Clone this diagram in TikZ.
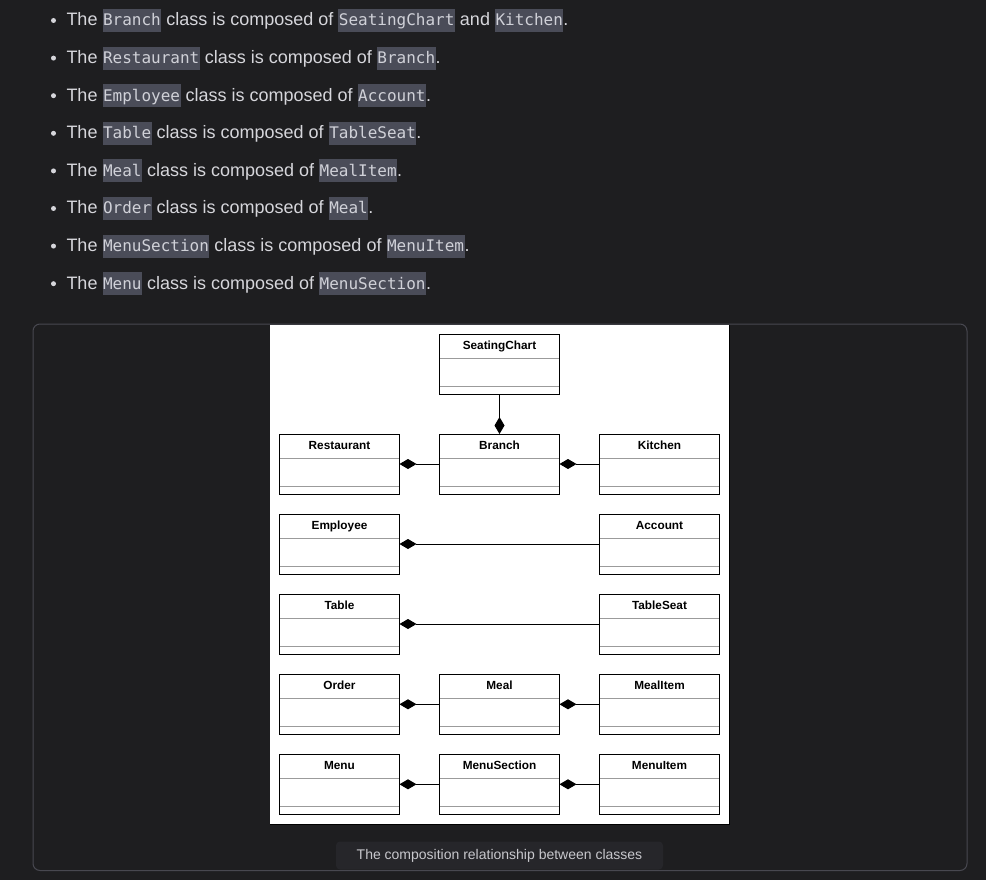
\documentclass[tikz,border=0pt]{standalone}
\usepackage{fontspec}
\setmainfont{Liberation Sans}
\newfontfamily\codefont{DejaVu Sans Mono}
\definecolor{pagebg}{RGB}{30,30,32}
\definecolor{panelline}{RGB}{72,72,80}
\definecolor{codebg}{RGB}{74,76,88}
\definecolor{codetext}{RGB}{208,209,216}
\definecolor{fgtext}{RGB}{214,214,219}
\definecolor{capbg}{RGB}{38,38,42}
\definecolor{captext}{RGB}{200,200,205}
\definecolor{divgray}{RGB}{155,155,155}
\usepackage{tikz}
\usetikzlibrary{arrows.meta}
\tikzstyle{base}=[x=1pt, y=-1pt, inner sep=0pt, outer sep=0pt]
\tikzstyle{txt}=[anchor=base west, text=fgtext, font=\fontsize{18}{21}\selectfont]
\tikzstyle{code}=[anchor=base west, inner xsep=0.5pt, inner ysep=0pt, text height=17pt, text depth=6pt, fill=codebg, text=codetext, font=\codefont\fontsize{16}{19}\selectfont]
\tikzstyle{dot}=[circle, fill=fgtext, minimum size=5pt]
\tikzstyle{cls}=[draw=black, line width=1pt, fill=white, minimum width=120pt, minimum height=60pt]
\tikzstyle{clstitle}=[anchor=base, font=\bfseries\fontsize{11.8}{14}\selectfont]
\tikzstyle{divider}=[divgray, line width=0.9pt, shorten <=0.5pt, shorten >=0.5pt]
\tikzstyle{comp}=[{Diamond[length=17pt,width=10pt]}-, line width=1pt]
\newcommand*{\composedline}[4]{%
  \node[txt] (l#1a) at (66.5,#2) {The\ \null};
  \node[code] (l#1b) at (l#1a.base east) {#3};
  \node[txt] (l#1c) at (l#1b.base east) {\ class is composed of\ \null};
  \node[code] (l#1d) at (l#1c.base east) {#4};
  \node[txt] (l#1e) at (l#1d.base east) {.};
}
\newcommand*{\umlclass}[4]{%
  \node[cls] (#1) at (#2,#3) {};
  \node[clstitle] (#1-title) at ([yshift=-15.5pt]#1.north) {#4};
  \draw[divider] ([yshift=-24pt]#1.north west) -- ([yshift=-24pt]#1.north east);
  \draw[divider] ([yshift=-52.5pt]#1.north west) -- ([yshift=-52.5pt]#1.north east);
}
\begin{document}
\begin{tikzpicture}[base]
    \fill [pagebg] (0,0) rectangle (986,880);
    \useasboundingbox (0,0) rectangle (986,880);
    % bullet list
    \foreach \i in {0,...,7}
        \node [dot] (dot\i) at (53.5, 20.5 + 37.6*\i) {};
    \node[txt] (l1a) at (66.5,26) {The\ \null};
    \node[code] (l1b) at (l1a.base east) {Branch};
    \node[txt] (l1c) at (l1b.base east) {\ class is composed of\ \null};
    \node[code] (l1d) at (l1c.base east) {SeatingChart};
    \node[txt] (l1e) at (l1d.base east) {\ and\ \null};
    \node[code] (l1f) at (l1e.base east) {Kitchen};
    \node[txt] (l1g) at (l1f.base east) {.};
    \composedline{2}{63.6}{Restaurant}{Branch}
    \composedline{3}{101.2}{Employee}{Account}
    \composedline{4}{138.8}{Table}{TableSeat}
    \composedline{5}{176.4}{Meal}{MealItem}
    \composedline{6}{214}{Order}{Meal}
    \composedline{7}{251.6}{MenuSection}{MenuItem}
    \composedline{8}{289.2}{Menu}{MenuSection}
    % figure panel
    \draw [panelline, line width=1pt, rounded corners=7pt] (33,324) rectangle (967,870.5);
    \fill [white] (270,325) rectangle (729,824);
    \draw [black, line width=1pt] (729.5,325) -- (729.5,824.5) -- (270,824.5);
    % classes
    \umlclass{seat}{499.5}{364.3}{SeatingChart}
    \umlclass{rest}{339.5}{464}{Restaurant}
    \umlclass{branch}{499.5}{464}{Branch}
    \umlclass{kitchen}{659.5}{464}{Kitchen}
    \umlclass{emp}{339.5}{544}{Employee}
    \umlclass{acct}{659.5}{544}{Account}
    \umlclass{table}{339.5}{624}{Table}
    \umlclass{tseat}{659.5}{624}{TableSeat}
    \umlclass{order}{339.5}{704.3}{Order}
    \umlclass{meal}{499.5}{704.3}{Meal}
    \umlclass{mitem}{659.5}{704.3}{MealItem}
    \umlclass{menu}{339.5}{784.3}{Menu}
    \umlclass{msec}{499.5}{784.3}{MenuSection}
    \umlclass{menuitem}{659.5}{784.3}{MenuItem}
    % compositions, diamond on the whole
    \draw [comp] (branch.north) -- (seat.south);
    \draw [comp] (rest.east) -- (branch.west);
    \draw [comp] (branch.east) -- (kitchen.west);
    \draw [comp] (emp.east) -- (acct.west);
    \draw [comp] (table.east) -- (tseat.west);
    \draw [comp] (order.east) -- (meal.west);
    \draw [comp] (meal.east) -- (mitem.west);
    \draw [comp] (menu.east) -- (msec.west);
    \draw [comp] (msec.east) -- (menuitem.west);
    % caption
    \node [fill=capbg, rounded corners=4pt, minimum width=327pt, minimum height=28pt,
           text height=10.5pt, text depth=2.5pt,
           text=captext, font=\fontsize{14}{16}\selectfont] (cap) at (499.5,855.5)
           {The composition relationship between classes};
\end{tikzpicture}
\end{document}
